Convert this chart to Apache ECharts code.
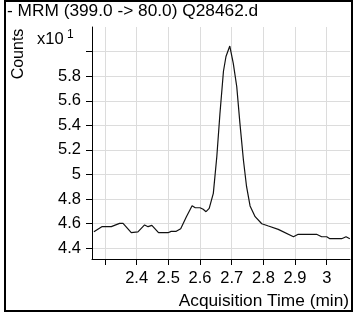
<!DOCTYPE html>
<html>
<head>
<meta charset="utf-8">
<script src="https://cdn.jsdelivr.net/npm/echarts@6/dist/echarts.min.js"></script>
<style>
  html, body { margin: 0; padding: 0; background: #fff; }
  #chart { width: 354px; height: 312px; }
</style>
</head>
<body>
<div id="chart"></div>
<script>
// 采样点 [时间(min), 计数 x10^1]
const times = [2.265, 2.29, 2.32, 2.346, 2.357, 2.383, 2.404, 2.425, 2.436, 2.448,
  2.469, 2.499, 2.509, 2.525, 2.539, 2.557, 2.575, 2.585, 2.6, 2.61,
  2.619, 2.629, 2.642, 2.653, 2.663, 2.674, 2.682, 2.694, 2.705, 2.716,
  2.726, 2.737, 2.747, 2.758, 2.774, 2.795, 2.816, 2.847, 2.895, 2.91,
  2.968, 2.984, 3.0, 3.01, 3.047, 3.061, 3.073]
const counts = [4.535, 4.576, 4.576, 4.603, 4.603, 4.527, 4.533, 4.59, 4.576, 4.587,
  4.527, 4.527, 4.538, 4.538, 4.559, 4.657, 4.746, 4.73, 4.73, 4.717,
  4.698, 4.725, 4.847, 5.145, 5.498, 5.84, 5.96, 6.045, 5.904, 5.714,
  5.416, 5.118, 4.901, 4.745, 4.657, 4.6, 4.581, 4.554, 4.494, 4.514,
  4.514, 4.494, 4.494, 4.478, 4.478, 4.494, 4.478]
const xTicks = [2.3, 2.4, 2.5, 2.6, 2.7, 2.8, 2.9, 3.0]
const xLabels = [2.4, 2.5, 2.6, 2.7, 2.8, 2.9, 3.0]
const yTicks = [4.4, 4.6, 4.8, 5.0, 5.2, 5.4, 5.6, 5.8, 6.0]
const yLabels = [4.4, 4.6, 4.8, 5.0, 5.2, 5.4, 5.6, 5.8]

const font = 'Liberation Sans, Arial, sans-serif'
const myChart = echarts.init(document.getElementById('chart'))

const options = {
  animation: false,
  grid: { left: 92, top: 27, right: 4, bottom: 53 },
  xAxis: {
    type: 'value',
    min: 2.259,
    max: 3.0735,
    axisLine: { show: true, lineStyle: { color: '#000', width: 1 } },
    axisTick: { show: true, length: 6, customValues: xTicks, lineStyle: { color: '#000' } },
    axisLabel: {
      customValues: xLabels,
      margin: 11,
      color: '#000',
      fontSize: 16.5,
      fontFamily: font,
      formatter: v => String(+v.toFixed(1))
    },
    splitLine: { show: true, lineStyle: { color: '#dcdcdc', width: 1 } }
  },
  yAxis: {
    type: 'value',
    min: 4.313,
    max: 6.2,
    axisLine: { show: true, lineStyle: { color: '#000', width: 1 } },
    axisTick: { show: true, length: 6, customValues: yTicks, lineStyle: { color: '#000' } },
    axisLabel: {
      customValues: yLabels,
      margin: 11,
      color: '#000',
      fontSize: 16.5,
      fontFamily: font,
      formatter: v => String(+v.toFixed(1))
    },
    splitLine: { show: true, lineStyle: { color: '#dcdcdc', width: 1 } }
  },
  series: [{
    type: 'line',
    data: times.map((t, i) => [t, counts[i]]),
    showSymbol: false,
    lineStyle: { color: '#111', width: 1.2 }
  }],
  graphic: [
    {
      type: 'rect',
      shape: { x: 5, y: 1, width: 347, height: 310 },
      style: { fill: null, stroke: '#000', lineWidth: 2 }
    },
    {
      type: 'text',
      left: 7, top: 3,
      style: { text: '- MRM (399.0 -> 80.0) Q28462.d', fontSize: 17.3, fontFamily: font, fill: '#000' }
    },
    {
      type: 'text',
      x: 19, y: 54,
      rotation: Math.PI / 2,
      style: {
        text: 'Counts', fontSize: 16, fontFamily: font, fill: '#000',
        align: 'center', verticalAlign: 'middle'
      }
    },
    {
      type: 'text',
      x: 37, y: 39,
      style: {
        text: '{a|x10} {b|1}',
        verticalAlign: 'middle',
        rich: {
          a: { fontSize: 16.5, fontFamily: font, fill: '#000' },
          b: { fontSize: 12, fontFamily: font, fill: '#000', verticalAlign: 'top', padding: [0, 0, 8, 0] }
        }
      }
    },
    {
      type: 'text',
      x: 349, y: 301,
      style: {
        text: 'Acquisition Time (min)', fontSize: 17.3, fontFamily: font, fill: '#000',
        align: 'right', verticalAlign: 'middle'
      }
    }
  ]
}
myChart.setOption(options)
</script>
</body>
</html>
